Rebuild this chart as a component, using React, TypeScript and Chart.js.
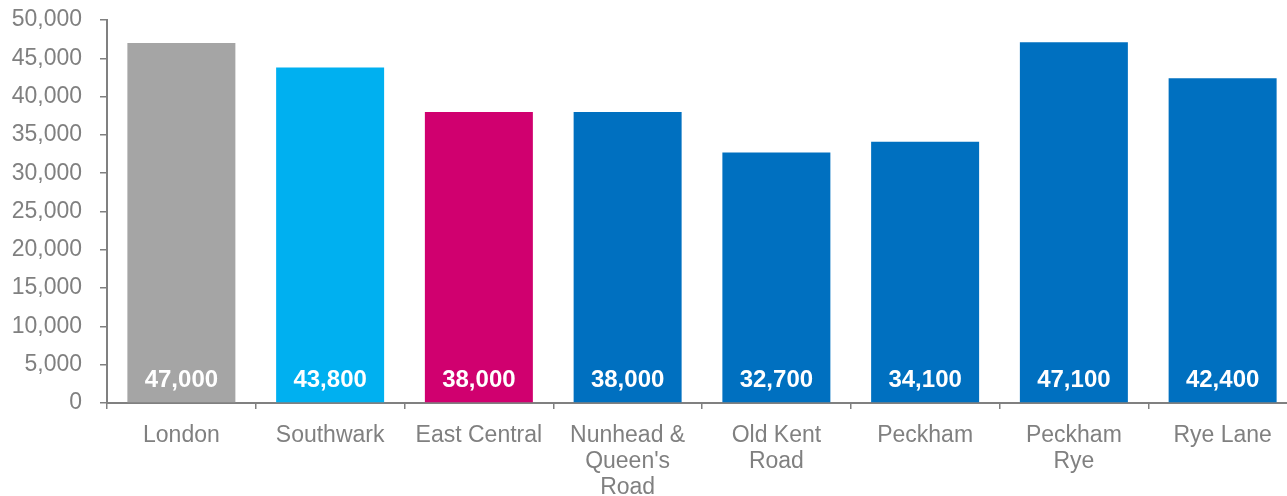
import React, { useEffect, useRef } from "react";
import { Chart, registerables } from "chart.js";

Chart.register(...registerables);

const categories: (string | string[])[] = [
  "London",
  "Southwark",
  "East Central",
  ["Nunhead &", "Queen's", "Road"],
  ["Old Kent", "Road"],
  "Peckham",
  ["Peckham", "Rye"],
  "Rye Lane",
];
const values = [47000, 43800, 38000, 38000, 32700, 34100, 47100, 42400];
const barColors = [
  "#a5a5a5",
  "#00b0f0",
  "#d0006f",
  "#0070c0",
  "#0070c0",
  "#0070c0",
  "#0070c0",
  "#0070c0",
];
const yTicks = { min: 0, max: 50000, step: 5000 };

const FONT = "'Liberation Sans', Arial, sans-serif";
const GREY = "#808080";
const CANVAS_W = 1297;

const labelPlugin = {
  id: "insideLabels",
  afterDatasetsDraw(chart: any) {
    const ctx = chart.ctx;
    const meta = chart.getDatasetMeta(0);
    const yScale = chart.scales.y;
    ctx.save();
    ctx.fillStyle = "#ffffff";
    ctx.font = `bold 24px ${FONT}`;
    ctx.textAlign = "center";
    ctx.textBaseline = "middle";
    meta.data.forEach((bar: any, i: number) => {
      const v = values[i];
      ctx.fillText(v.toLocaleString("en-US"), bar.x, yScale.getPixelForValue(0) - 23);
    });
    ctx.restore();
  },
};

export default function App() {
  const ref = useRef<HTMLCanvasElement>(null);
  useEffect(() => {
    if (!ref.current) return;
    const chart = new Chart(ref.current, {
      type: "bar",
      data: {
        labels: categories,
        datasets: [
          {
            data: values,
            backgroundColor: barColors,
            barPercentage: 0.726,
            categoryPercentage: 1,
          },
        ],
      },
      options: {
        animation: false,
        responsive: false,
        layout: { padding: { top: 20, right: 0, left: 0, bottom: 0 } },
        plugins: { legend: { display: false }, tooltip: { enabled: false } },
        scales: {
          x: {
            offset: true,
            grid: {
              display: true,
              offset: true,
              drawOnChartArea: false,
              drawTicks: true,
              tickLength: 6,
              color: GREY,
              lineWidth: 1.5,
            },
            border: { display: true, color: GREY, width: 2 },
            ticks: {
              color: GREY,
              font: { family: FONT, size: 23, lineHeight: 1.15 },
              padding: 13,
              maxRotation: 0,
              autoSkip: false,
            },
            afterFit: (scale: any) => {
              scale.height = 93;
              scale.paddingLeft = 0;
              scale.paddingRight = 0;
            },
          },
          y: {
            min: yTicks.min,
            max: yTicks.max,
            grid: {
              display: true,
              drawOnChartArea: false,
              drawTicks: true,
              tickLength: 7,
              color: GREY,
              lineWidth: 1.5,
            },
            border: { display: true, color: GREY, width: 2 },
            ticks: {
              stepSize: yTicks.step,
              color: GREY,
              font: { family: FONT, size: 23 },
              padding: 18,
              callback: (v: any) => Number(v).toLocaleString("en-US"),
            },
            afterFit: (scale: any) => {
              scale.width = 107;
              scale.paddingTop = 0;
              scale.paddingBottom = 0;
            },
          },
        },
      },
      plugins: [labelPlugin],
    });
    return () => chart.destroy();
  }, []);
  return (
    <div style={{ position: "fixed", left: 0, top: 0, width: 1287, height: 496, overflow: "hidden" }}>
      <canvas ref={ref} width={CANVAS_W} height={496} style={{ width: CANVAS_W, height: 496 }} />
    </div>
  );
}
